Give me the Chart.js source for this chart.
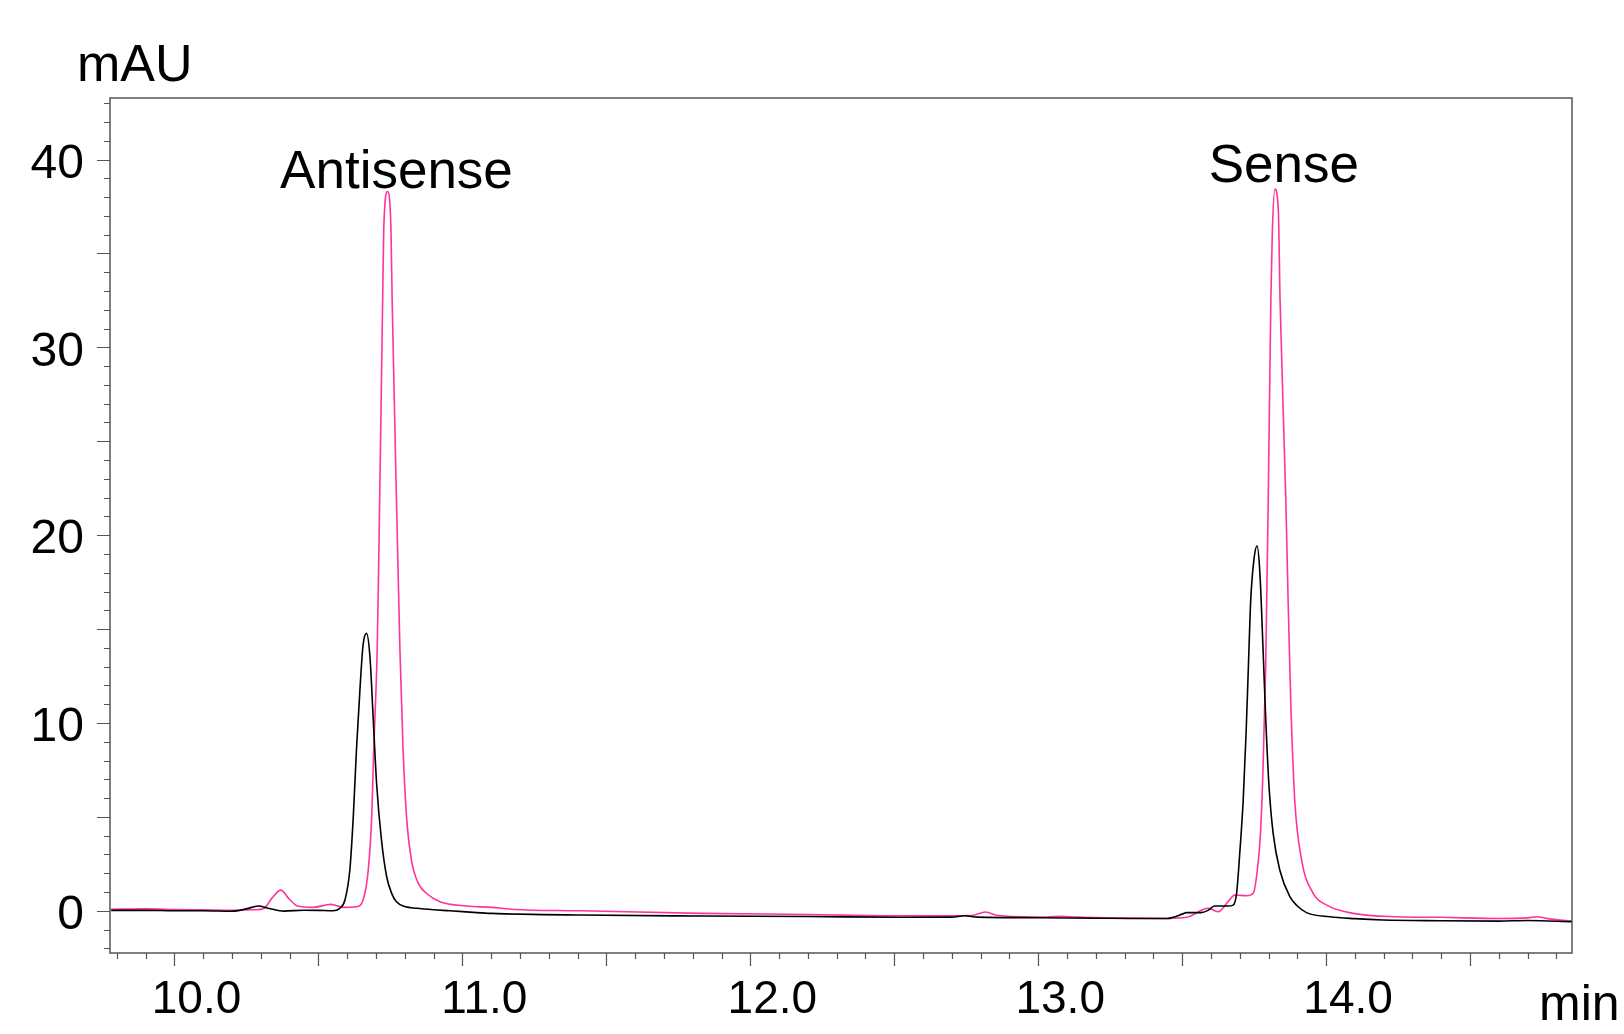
<!DOCTYPE html>
<html>
<head>
<meta charset="utf-8">
<script src="https://cdn.jsdelivr.net/npm/chart.js@4.4.0/dist/chart.umd.min.js"></script>
<style>
  body { margin: 0; background: #fff; }
</style>
</head>
<body>
<canvas id="myChart" width="1624" height="1034"></canvas>
<script>
// retention time (min) and absorbance (mAU)
var blackTime = [
  9.78, 9.90, 10.00, 10.10, 10.20, 10.25, 10.29, 10.33, 10.38, 10.45, 10.50, 10.55,
  10.574, 10.592, 10.609, 10.621, 10.632, 10.644, 10.655, 10.667, 10.679, 10.690,
  10.702, 10.719, 10.737, 10.755, 10.771, 10.80, 10.841, 10.90, 10.957, 11.05, 11.10,
  11.41, 11.83, 12.20, 12.52, 12.70, 12.744, 12.79, 13.00, 13.20, 13.45, 13.468, 13.50,
  13.516, 13.564, 13.59, 13.612, 13.64, 13.659, 13.677, 13.689, 13.700, 13.712, 13.722,
  13.730, 13.738, 13.749, 13.760, 13.770, 13.781, 13.790, 13.801, 13.816, 13.839, 13.874,
  13.90, 13.932, 14.013, 14.10, 14.198, 14.395, 14.60, 14.70, 14.854
];
var blackSignal = [
  0.02, 0.02, 0.0, 0.0, -0.03, 0.1, 0.25, 0.12, -0.02, 0.03, 0.02, 0.0,
  0.13, 0.57, 2.17, 5.0, 8.56, 11.75, 14.15, 14.77, 13.5, 10.3,
  6.78, 3.76, 1.81, 0.9, 0.48, 0.22, 0.13, 0.05, 0.0, -0.1, -0.14,
  -0.23, -0.28, -0.31, -0.35, -0.34, -0.27, -0.34, -0.37, -0.4, -0.41, -0.35, -0.18,
  -0.1, -0.1, 0.02, 0.25, 0.25, 0.25, 0.3, 0.93, 3.06, 5.9, 9.45,
  13.0, 16.5, 18.67, 19.43, 17.97, 13.9, 10.3, 6.78, 4.12, 2.17, 0.75,
  0.25, -0.1, -0.32, -0.42, -0.49, -0.53, -0.55, -0.52, -0.58
];
var pinkTime = [
  9.78, 9.90, 10.00, 10.10, 10.20, 10.28, 10.31, 10.34, 10.369, 10.40, 10.427, 10.481,
  10.543, 10.586, 10.632, 10.655, 10.673, 10.685, 10.692, 10.704, 10.710, 10.723,
  10.727, 10.740, 10.752, 10.756, 10.775, 10.783, 10.794, 10.806, 10.823, 10.847,
  10.875, 10.922, 11.015, 11.10, 11.18, 11.41, 11.83, 12.20, 12.52, 12.77, 12.816,
  12.86, 13.03, 13.081, 13.13, 13.45, 13.516, 13.573, 13.59, 13.625, 13.66, 13.683,
  13.724, 13.747, 13.761, 13.772, 13.781, 13.790, 13.799, 13.808, 13.813, 13.822,
  13.834, 13.840, 13.860, 13.868, 13.877, 13.891, 13.915, 13.955, 14.002, 14.094,
  14.245, 14.395, 14.60, 14.70, 14.732, 14.77, 14.812, 14.854
];
var pinkSignal = [
  0.08, 0.1, 0.07, 0.05, 0.03, 0.05, 0.12, 0.7, 1.1, 0.6, 0.25, 0.18,
  0.34, 0.18, 0.21, 0.57, 2.17, 5.0, 8.56, 13.9, 19.2, 32.5,
  36.4, 38.3, 36.2, 32.5, 19.2, 13.9, 8.56, 5.0, 2.7, 1.46,
  0.93, 0.48, 0.25, 0.18, 0.07, 0.0, -0.14, -0.2, -0.27, -0.25, -0.07,
  -0.25, -0.33, -0.29, -0.34, -0.41, -0.35, 0.07, 0.13, -0.05, 0.5, 0.84,
  0.8, 0.93, 2.17, 4.12, 7.67, 13.0, 21.9, 32.5, 36.07, 38.43,
  37.3, 32.5, 21.9, 16.5, 11.2, 5.9, 2.7, 0.93, 0.3, -0.14,
  -0.32, -0.35, -0.41, -0.38, -0.32, -0.42, -0.5, -0.55
];
var xLabelTicks = [10, 11, 12, 13, 14];
var yLabelTicks = [0, 10, 20, 30, 40];
var peakNames = ["Antisense", "Sense"];
var peakTimes = [10.771, 13.853];

function toPoints(times, values) {
  return times.map(function (t, i) { return { x: t, y: values[i] }; });
}

var FONT = "'Liberation Sans', Arial, sans-serif";

var frameAndMarks = {
  id: "frameAndMarks",
  afterDraw: function (chart) {
    var c = chart.ctx;
    var a = chart.chartArea;
    var xs = chart.scales.x;
    var ys = chart.scales.y;
    c.save();
    c.strokeStyle = "#555";
    c.lineWidth = 1.5;
    c.strokeRect(a.left, a.top, a.right - a.left, a.bottom - a.top);

    c.lineWidth = 1.2;
    c.beginPath();
    for (var i = 98; i <= 148; i++) {
      var px = Math.round(xs.getPixelForValue(i / 10)) + 0.5;
      var len = i % 5 === 0 ? 13 : 6;
      c.moveTo(px, a.bottom);
      c.lineTo(px, a.bottom + len);
    }
    for (var j = -2; j <= 43; j++) {
      var py = Math.round(ys.getPixelForValue(j)) + 0.5;
      var l = j % 5 === 0 ? 13 : 6;
      c.moveTo(a.left, py);
      c.lineTo(a.left - l, py);
    }
    c.stroke();

    c.fillStyle = "#000";
    c.textBaseline = "alphabetic";
    c.font = "52px " + FONT;
    c.textAlign = "left";
    c.fillText("mAU", a.left - 33, a.top - 17);
    c.font = "50px " + FONT;
    c.fillText("min", a.right - 33, a.bottom + 67);

    c.font = "53px " + FONT;
    c.textAlign = "center";
    c.fillText(peakNames[0], xs.getPixelForValue(peakTimes[0]), ys.getPixelForValue(38.5));
    c.fillText(peakNames[1], xs.getPixelForValue(peakTimes[1]), ys.getPixelForValue(38.8));
    c.restore();
  }
};

var ctx = document.getElementById("myChart").getContext("2d");
var chart = new Chart(ctx, {
  type: "line",
  data: {
    datasets: [
      {
        label: "black",
        data: toPoints(blackTime, blackSignal),
        borderColor: "#000000",
        borderWidth: 1.6,
        pointRadius: 0,
        cubicInterpolationMode: "monotone",
        fill: false
      },
      {
        label: "pink",
        data: toPoints(pinkTime, pinkSignal),
        borderColor: "#ff3399",
        borderWidth: 1.6,
        pointRadius: 0,
        cubicInterpolationMode: "monotone",
        fill: false
      }
    ]
  },
  options: {
    responsive: false,
    animation: false,
    devicePixelRatio: 1,
    layout: { padding: { left: 0, top: 98, right: 52, bottom: 0 } },
    plugins: { legend: { display: false }, tooltip: { enabled: false } },
    scales: {
      x: {
        type: "linear",
        min: 9.776,
        max: 14.854,
        afterBuildTicks: function (s) {
          s.ticks = xLabelTicks.map(function (v) { return { value: v }; });
        },
        afterFit: function (s) { s.height = 81; },
        grid: { display: false, drawTicks: false },
        border: { display: false },
        ticks: {
          autoSkip: false,
          maxRotation: 0,
          padding: 20,
          labelOffset: 22,
          color: "#000",
          font: { family: FONT, size: 46 },
          callback: function (v) { return Number(v).toFixed(1); }
        }
      },
      y: {
        type: "linear",
        min: -2.25,
        max: 43.28,
        afterBuildTicks: function (s) {
          s.ticks = yLabelTicks.map(function (v) { return { value: v }; });
        },
        afterFit: function (s) { s.width = 110; },
        grid: { display: false, drawTicks: false },
        border: { display: false },
        ticks: {
          autoSkip: false,
          padding: 26,
          labelOffset: 5,
          color: "#000",
          font: { family: FONT, size: 48 }
        }
      }
    }
  },
  plugins: [frameAndMarks]
});
</script>
</body>
</html>
